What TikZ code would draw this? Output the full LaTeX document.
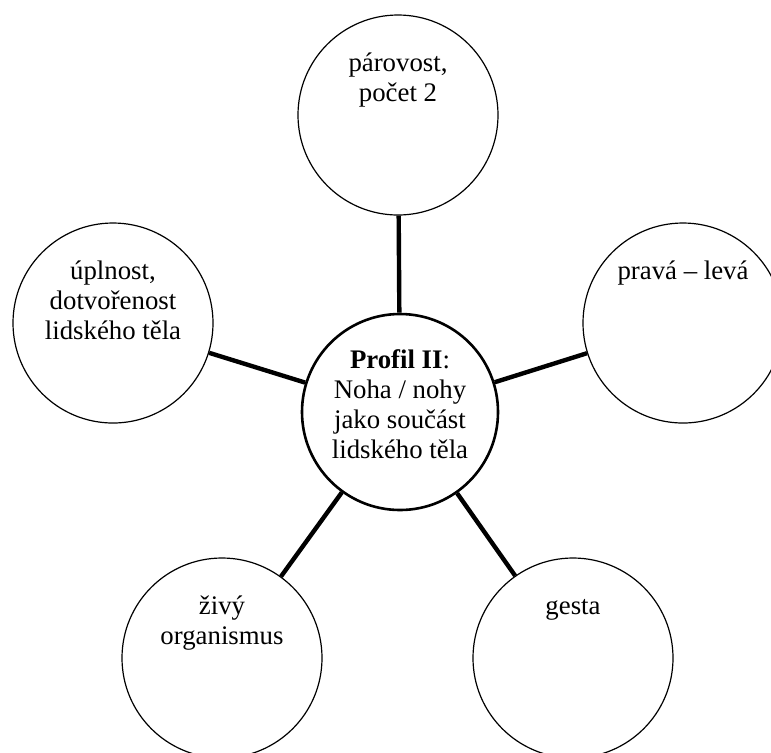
\documentclass[tikz,border=0pt]{standalone}
\usepackage{fontspec}
\setmainfont{Liberation Serif}
\newcommand{\bubbletext}[1]{\parbox[c][65pt][t]{72pt}{\centering\strut #1}}

\begin{document}
\begin{tikzpicture}[x=0.5pt, y=-0.5pt,
    bubble/.style={circle, draw, line width=0.6pt, inner sep=0pt, minimum size=100pt,
                   font=\fontsize{13.4}{15}\selectfont},
    core/.style={bubble, line width=1.3pt, minimum size=98pt},
    link/.style={line width=2.2pt}]
    \useasboundingbox (0,0) rectangle (771,752);

    \node[core]   (profil)     at (400,412) {\bubbletext{\textbf{Profil II}:\\ Noha / nohy\\ jako součást\\ lidského těla}};
    \node[bubble] (parovost)   at (398,115) {\bubbletext{párovost,\\ počet 2}};
    \node[bubble] (uplnost)    at (113,323) {\bubbletext{úplnost,\\ dotvořenost\\ lidského těla}};
    \node[bubble] (pravaleva)  at (683,323) {\bubbletext{pravá – levá}};
    \node[bubble] (organismus) at (222,658) {\bubbletext{živý\\ organismus}};
    \node[bubble] (gesta)      at (573,658) {\bubbletext{gesta}};

    \draw[link] (profil) -- (parovost);
    \draw[link] (profil) -- (uplnost);
    \draw[link] (profil) -- (pravaleva);
    \draw[link] (profil) -- (organismus);
    \draw[link] (profil) -- (gesta);
\end{tikzpicture}
\end{document}
